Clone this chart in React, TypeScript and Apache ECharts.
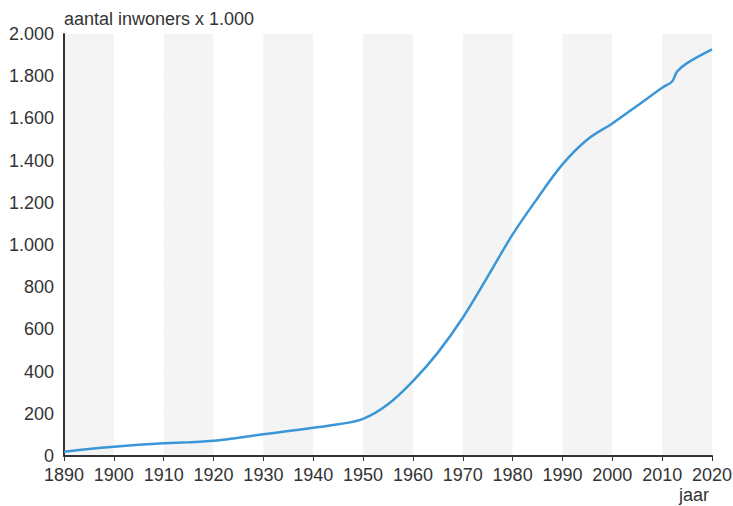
import React, { useEffect, useRef } from "react";
import * as echarts from "echarts";

const years = [1890, 1895, 1900, 1905, 1910, 1915, 1920, 1925, 1930, 1935, 1940, 1945, 1950, 1955, 1960, 1965, 1970, 1975, 1980, 1985, 1990, 1995, 2000, 2005, 2010, 2012, 2013, 2015, 2020];
const inwoners = [20, 33, 44, 53, 60, 65, 72, 87, 103, 118, 134, 150, 176, 245, 355, 490, 655, 850, 1050, 1222, 1382, 1500, 1576, 1660, 1745, 1775, 1822, 1862, 1927];

const yAxisName = "aantal inwoners x 1.000";
const xAxisName = "jaar";

const fmt = (v: number) => {
  const s = String(Math.round(v));
  return s.replace(/\B(?=(\d{3})+(?!\d))/g, ".");
};

export default function App() {
  const ref = useRef<HTMLDivElement>(null);
  useEffect(() => {
    if (!ref.current) return;
    const chart = echarts.init(ref.current, null, { renderer: "svg" });
    const font = "Liberation Sans, Arial, sans-serif";
    chart.setOption({
      animation: false,
      textStyle: { fontFamily: font },
      grid: { left: 64, right: 21, top: 34, bottom: 50, outerBoundsMode: "none", containLabel: false },
      xAxis: {
        type: "value",
        min: 1890,
        max: 2020,
        interval: 10,
        axisLine: { show: true, lineStyle: { color: "#333", width: 2 } },
        axisTick: { show: true, length: 5, lineStyle: { color: "#333", width: 1 } },
        axisLabel: { color: "#333", fontSize: 18, margin: 10, fontFamily: font, formatter: (v: number) => String(v) },
        splitLine: { show: false },
        splitArea: { show: true, areaStyle: { color: ["#f4f4f4", "#ffffff"] } },
      },
      yAxis: {
        type: "value",
        min: 0,
        max: 2000,
        interval: 200,
        name: yAxisName,
        nameLocation: "end",
        nameGap: 6,
        nameTextStyle: { color: "#333", fontSize: 18, align: "left", verticalAlign: "bottom", fontFamily: font },
        axisLine: { show: true, lineStyle: { color: "#333", width: 2 } },
        axisTick: { show: false },
        axisLabel: { color: "#333", fontSize: 18, margin: 10, formatter: fmt, fontFamily: font },
        splitLine: { show: true, lineStyle: { color: "#e4e4e4", width: 1 } },
      },
      graphic: [
        {
          type: "text",
          x: 709,
          y: 495,
          style: { text: xAxisName, fill: "#333", fontSize: 18, fontFamily: font, textAlign: "right", textVerticalAlign: "middle" },
        },
      ],
      series: [
        {
          type: "line",
          data: years.map((y, i) => [y, inwoners[i]]),
          smooth: 0.35,
          showSymbol: false,
          symbol: "none",
          lineStyle: { color: "#3b96d8", width: 2.5 },
          z: 5,
        },
      ],
    });
    return () => chart.dispose();
  }, []);
  return <div ref={ref} style={{ position: "absolute", left: 0, top: 0, width: 733, height: 506 }} />;
}
